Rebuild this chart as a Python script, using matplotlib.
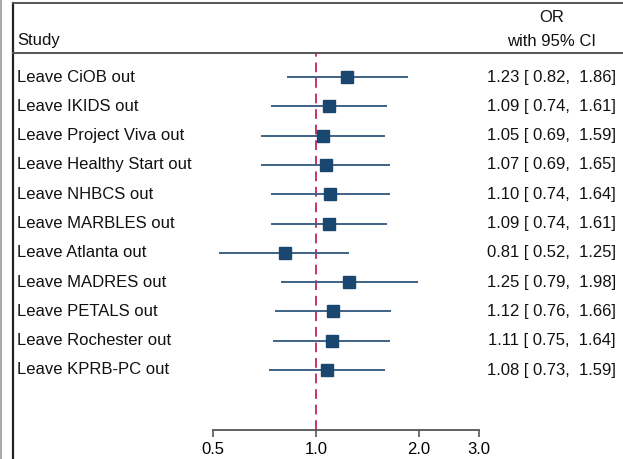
import matplotlib
matplotlib.use("Agg")
import numpy as np
import matplotlib.pyplot as plt
import matplotlib.transforms as mtransforms
from matplotlib.lines import Line2D

# Data (leave-one-out meta-analysis)
studies = ["Leave CiOB out", "Leave IKIDS out", "Leave Project Viva out",
           "Leave Healthy Start out", "Leave NHBCS out", "Leave MARBLES out",
           "Leave Atlanta out", "Leave MADRES out", "Leave PETALS out",
           "Leave Rochester out", "Leave KPRB-PC out"]
odds_ratio = [1.23, 1.09, 1.05, 1.07, 1.10, 1.09, 0.81, 1.25, 1.12, 1.11, 1.08]
ci_low = [0.82, 0.74, 0.69, 0.69, 0.74, 0.74, 0.52, 0.79, 0.76, 0.75, 0.73]
ci_high = [1.86, 1.61, 1.59, 1.65, 1.64, 1.61, 1.25, 1.98, 1.66, 1.64, 1.59]
tick_vals = [0.5, 1.0, 2.0, 3.0]
tick_labels = ["0.5", "1.0", "2.0", "3.0"]

W, H = 623, 459
plt.rcParams['font.family'] = ['Liberation Sans', 'DejaVu Sans']
fig = plt.figure(figsize=(W / 100, H / 100), dpi=100)


def fx(x):
    return x / W


def fy(y):
    return 1 - y / H


# plot area: from header line (y=52) down to axis line (y=430)
left_px, right_px, top_px, bot_px = 13, 621, 52, 430
ax = fig.add_axes([fx(left_px), fy(bot_px), (right_px - left_px) / W, (bot_px - top_px) / H])
ax.set_xscale('log')
x1_px, per_ln = 316, 148.6
ax.set_xlim(np.exp((left_px - x1_px) / per_ln), np.exp((right_px - x1_px) / per_ln))
row0, step = 77, 29.3
ax.set_ylim((bot_px - row0) / step, (top_px - row0) / step)

rows = np.arange(len(studies))
navy = '#1a476f'
ax.hlines(rows, ci_low, ci_high, color='#3f6286', lw=1.4, zorder=2)
ax.plot(odds_ratio, rows, 's', color=navy, ms=8.8, zorder=3)
ax.axvline(1.0, color='#cc3366', lw=1.4, ls=(0, (5, 3)), zorder=1)

for s in ['top', 'right', 'left']:
    ax.spines[s].set_visible(False)
ax.spines['bottom'].set_bounds(0.5, 3.0)
ax.spines['bottom'].set_color('#555555')
ax.spines['bottom'].set_linewidth(1.3)
ax.set_xticks(tick_vals)
ax.set_xticklabels(tick_labels)
ax.xaxis.set_minor_locator(matplotlib.ticker.NullLocator())
ax.tick_params(axis='x', length=5, width=1.2, color='#555555', labelsize=12, pad=4)
ax.set_yticks([])
ax.patch.set_alpha(0)

# row labels and estimates
trans = mtransforms.blended_transform_factory(fig.transFigure, ax.transData)
for i, name in enumerate(studies):
    ax.text(fx(17), i, name, transform=trans, ha='left', va='center', fontsize=12, color='#111111')
    est = f"{odds_ratio[i]:.2f} [ {ci_low[i]:.2f},  {ci_high[i]:.2f}]"
    ax.text(fx(616), i, est, transform=trans, ha='right', va='center', fontsize=12, color='#111111')

# header
fig.text(fx(17), fy(41), "Study", ha='left', va='center', fontsize=12, color='#111111')
fig.text(fx(552), fy(18), "OR", ha='center', va='center', fontsize=12, color='#111111')
fig.text(fx(552), fy(41), "with 95% CI", ha='center', va='center', fontsize=12, color='#111111')

# frame lines
fig.add_artist(Line2D([fx(13), fx(13)], [fy(3), fy(459)], color='#222222', lw=1.6))
fig.add_artist(Line2D([fx(13), 1], [fy(3), fy(3)], color='#555555', lw=1.4))
fig.add_artist(Line2D([fx(13), 1], [fy(52.5), fy(52.5)], color='#555555', lw=1.4))
fig.add_artist(Line2D([fx(1), fx(1)], [0, 1], color='#aaaaaa', lw=1.5))

fig.savefig('out.png', dpi=100)
